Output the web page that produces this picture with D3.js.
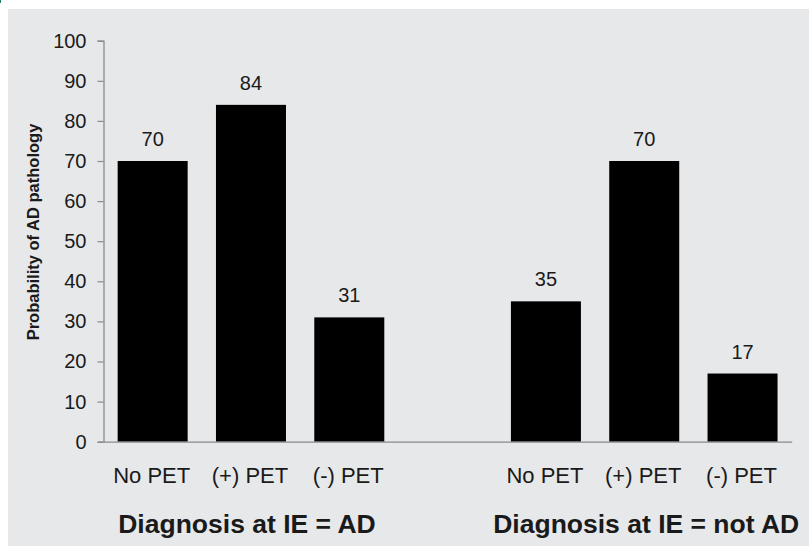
<!DOCTYPE html>
<html>
<head>
<meta charset="utf-8">
<script src="https://cdn.jsdelivr.net/npm/d3@7"></script>
<style>
  html, body { margin: 0; padding: 0; background: #ffffff; }
  svg { display: block; }
  text { font-family: "Liberation Sans", Arial, Helvetica, sans-serif; fill: #1a1a1a; }
</style>
</head>
<body>
<svg id="chart" width="809" height="546"></svg>
<script>
// ---- data ----
const groups = ["Diagnosis at IE = AD", "Diagnosis at IE = not AD"];
const categories = ["No PET", "(+) PET", "(-) PET"];
const valuesAD = [70, 84, 31];
const valuesNotAD = [35, 70, 17];
const yTicks = [0, 10, 20, 30, 40, 50, 60, 70, 80, 90, 100];
const yTitle = "Probability of AD pathology";

// build rows
const seriesByGroup = [valuesAD, valuesNotAD];
const rows = [];
groups.forEach((g, gi) => {
  categories.forEach((c, ci) => {
    rows.push({ key: gi + "|" + c, group: gi, cat: c, value: seriesByGroup[gi][ci] });
  });
});
const slots = [rows[0].key, rows[1].key, rows[2].key, "gap", rows[3].key, rows[4].key, rows[5].key];

const svg = d3.select("#chart");
const W = 809, H = 546;

// background
svg.append("rect").attr("x", 8).attr("y", 9).attr("width", W - 8).attr("height", H - 9).attr("fill", "#e7e8ea");
svg.append("rect").attr("x", 0).attr("y", 0).attr("width", 1).attr("height", 3).attr("fill", "#1f7f6e");

const x0 = 103.5, x1 = 791.7, yTop = 40.7, yBot = 441.7;

const x = d3.scaleBand().domain(slots).range([x0, x1]).paddingInner(0.288).paddingOuter(0.144);
const y = d3.scaleLinear().domain([0, 100]).range([yBot, yTop]);

// bars
svg.append("g").selectAll("rect").data(rows).join("rect")
  .attr("x", d => x(d.key))
  .attr("y", d => y(d.value))
  .attr("width", x.bandwidth())
  .attr("height", d => y(0) - y(d.value))
  .attr("fill", "#000");

// value labels
svg.append("g").selectAll("text").data(rows).join("text")
  .attr("x", d => x(d.key) + x.bandwidth() / 2)
  .attr("y", d => y(d.value) - 15)
  .attr("text-anchor", "middle")
  .style("font-size", "20px")
  .text(d => d.value);

// y axis
const yAxis = d3.axisLeft(y).tickValues(yTicks).tickSize(6).tickPadding(11).tickFormat(d3.format("d"));
const gy = svg.append("g").attr("transform", `translate(${x0},0)`).call(yAxis);
gy.select(".domain").attr("stroke", "#8a8a8a").attr("stroke-width", 1.3);
gy.selectAll(".tick line").attr("stroke", "#8a8a8a").attr("stroke-width", 1.2);
gy.selectAll(".tick text").style("font-size", "20px").attr("fill", "#1a1a1a")
  .style("font-family", '"Liberation Sans", Arial, sans-serif');

// x axis line
const xAxis = d3.axisBottom(x).tickSize(0).tickFormat("");
const gx = svg.append("g").attr("transform", `translate(0,${yBot})`).call(xAxis);
gx.select(".domain").attr("stroke", "#8a8a8a").attr("stroke-width", 1.3);
gx.selectAll(".tick").remove();

// category labels
svg.append("g").selectAll("text").data(rows).join("text")
  .attr("x", d => x(d.key) + x.bandwidth() / 2 - 1)
  .attr("y", 483)
  .attr("text-anchor", "middle")
  .style("font-size", "22px")
  .text(d => d.cat);

// group labels
const groupCenters = [
  (x(rows[0].key) + x(rows[2].key) + x.bandwidth()) / 2 - 4,
  (x(rows[3].key) + x(rows[5].key) + x.bandwidth()) / 2 + 2
];
svg.append("g").selectAll("text").data(groups).join("text")
  .attr("x", (d, i) => groupCenters[i])
  .attr("y", 533)
  .attr("text-anchor", "middle")
  .style("font-size", "26.5px")
  .style("font-weight", "bold")
  .text(d => d);

// y title
svg.append("text")
  .attr("transform", `translate(39,232) rotate(-90)`)
  .attr("text-anchor", "middle")
  .style("font-size", "16.5px")
  .style("font-weight", "bold")
  .text(yTitle);
</script>
</body>
</html>
